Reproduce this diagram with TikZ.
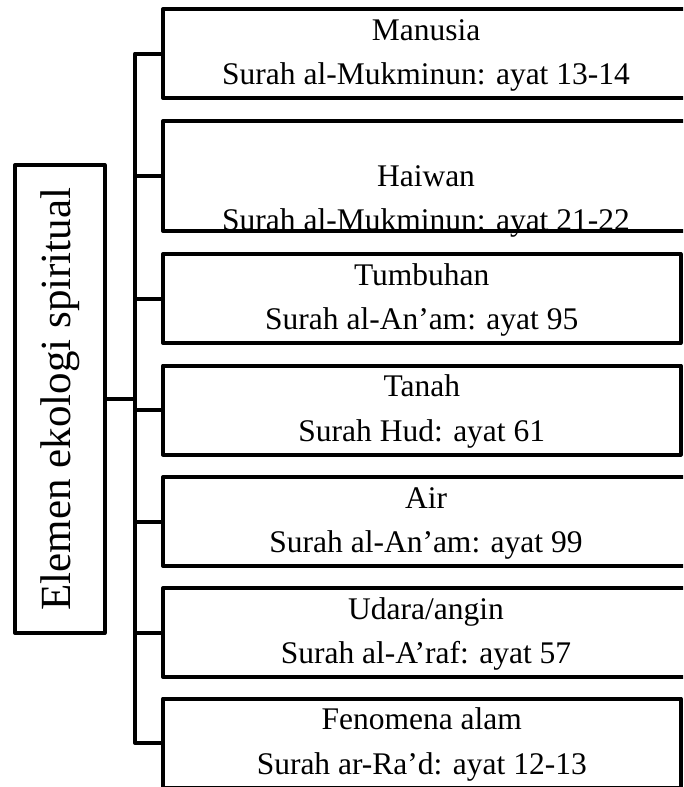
\documentclass[tikz,border=0pt]{standalone}
\usepackage{fontspec}
\setmainfont{Liberation Serif}
\newcommand{\duabaris}[2]{\strut #1\\\strut #2}

\begin{document}
\begin{tikzpicture}[x=1pt,y=-1pt,
  kotak/.style={draw, line width=4pt, line join=round, rectangle, inner sep=0pt, outer sep=0pt, align=center, font=\fontsize{31.5}{44.5}\selectfont},
  kotakbuka/.style={kotak, minimum width=526pt, minimum height=89pt},
  kotaktutup/.style={kotak, minimum width=517.5pt, minimum height=88pt},
  garis/.style={line width=4pt, line join=round}]
\path[use as bounding box, clip] (0,0) rectangle (683,787);
% judul di kiri
\node[kotak, rotate=90, minimum width=468pt, minimum height=89.5pt, font=\fontsize{43}{50}\selectfont] (elemen) at (59.75,399) {Elemen ekologi spiritual};
% kotak elemen
\node[kotakbuka] (manusia) at (426,53.5) {\duabaris{Manusia}{Surah al-Mukminun: ayat 13-14}};
\node[kotakbuka, minimum height=110pt] (haiwan) at (426,176) {};
\node[anchor=south, inner sep=0pt, align=center, font=\fontsize{31.5}{44.5}\selectfont] (haiwanteks) at ([yshift=-13.35pt]haiwan.south) {\duabaris{Haiwan}{Surah al-Mukminun: ayat 21-22}};
\node[kotaktutup] (tumbuhan) at (421.75,298.5) {\duabaris{Tumbuhan}{Surah al-An’am: ayat 95}};
\node[kotaktutup] (tanah) at (421.75,410) {\duabaris{Tanah}{Surah Hud: ayat 61}};
\node[kotakbuka] (air) at (426,521.5) {\duabaris{Air}{Surah al-An’am: ayat 99}};
\node[kotakbuka] (udara) at (426,632.5) {\duabaris{Udara/angin}{Surah al-A’raf: ayat 57}};
\node[kotaktutup] (fenomena) at (421.75,743) {\duabaris{Fenomena alam}{Surah ar-Ra’d: ayat 12-13}};
% garis penghubung
\coordinate (simpang) at (135,399);
\draw[garis] (manusia.west) -| (simpang) |- (fenomena.west);
\draw[garis] (elemen.south) -- (simpang);
\foreach \n in {haiwan,tumbuhan,tanah,air,udara}
  \draw[garis] (simpang |- \n.west) -- (\n.west);
\end{tikzpicture}
\end{document}
